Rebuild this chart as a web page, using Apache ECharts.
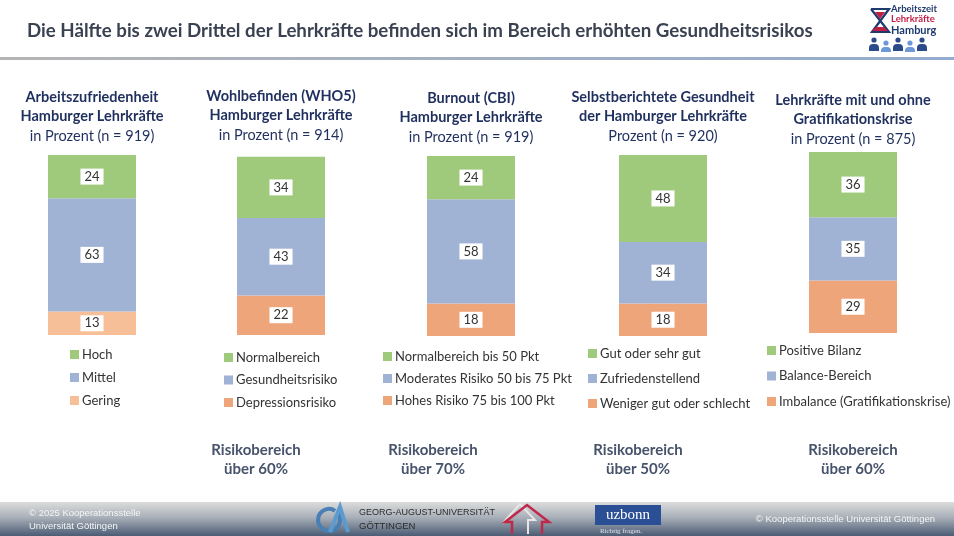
<!DOCTYPE html>
<html><head><meta charset="utf-8">
<script src="https://cdn.jsdelivr.net/npm/echarts@6/dist/echarts.min.js"></script>
<style>html,body{margin:0;padding:0;background:#fff}#c{width:954px;height:536px}</style>
</head><body><div id="c"></div>
<script>
// ---- data ----
const chartTitles = [
  ["Arbeitszufriedenheit", "Hamburger Lehrkräfte", "in Prozent (n = 919)"],
  ["Wohlbefinden (WHO5)", "Hamburger Lehrkräfte", "in Prozent (n = 914)"],
  ["Burnout (CBI)", "Hamburger Lehrkräfte", "in Prozent (n = 919)"],
  ["Selbstberichtete Gesundheit", "der Hamburger Lehrkräfte", "Prozent (n = 920)"],
  ["Lehrkräfte mit und ohne", "Gratifikationskrise", "in Prozent (n = 875)"]
];
// category names per chart: [top (green), middle (blue), bottom (orange)]
const legendNames = [
  ["Hoch", "Mittel", "Gering"],
  ["Normalbereich", "Gesundheitsrisiko", "Depressionsrisiko"],
  ["Normalbereich bis 50 Pkt", "Moderates Risiko 50 bis 75 Pkt", "Hohes Risiko 75 bis 100 Pkt"],
  ["Gut oder sehr gut", "Zufriedenstellend", "Weniger gut oder schlecht"],
  ["Positive Bilanz", "Balance-Bereich", "Imbalance (Gratifikationskrise)"]
];
const greenValues  = [24, 34, 24, 48, 36];
const blueValues   = [63, 43, 58, 34, 35];
const orangeValues = [13, 22, 18, 18, 29];
const riskNotes = [null, ["Risikobereich", "über 60%"], ["Risikobereich", "über 70%"], ["Risikobereich", "über 50%"], ["Risikobereich", "über 60%"]];
const mainTitle = "Die Hälfte bis zwei Drittel der Lehrkräfte befinden sich im Bereich erhöhten Gesundheitsrisikos";

// ---- layout (styles only) ----
const FONT = "Lato";
const centers = [92, 281, 471, 663, 853];
const gridTops = [155, 155, 156, 155, 152];
const gridBottoms = [201, 201, 200, 200, 203];
const titleTops = [97, 96, 98, 97, 100];
const legendPos = [[70, 348], [224, 351], [383, 350], [588, 347], [767, 344]];
const legendGaps = [10, 9.5, 9, 12, 12.5];
const noteCenters = [0, 256, 433, 638, 853];
const GREEN = "#9fca7b", BLUE = "#a1b3d5", ORANGE = "#efa57a", ORANGE1 = "#f6bf97";
const NAVY = "#1f2f5e";

const chart = echarts.init(document.getElementById('c'), null, {renderer: 'canvas'});

const grids = [], xAxes = [], yAxes = [], series = [], legends = [], graphics = [];
centers.forEach((cx, i) => {
  grids.push({left: cx - 44, width: 88, top: gridTops[i], bottom: gridBottoms[i]});
  xAxes.push({type: 'category', gridIndex: i, data: ['a'], show: false});
  yAxes.push({type: 'value', gridIndex: i, min: 0, max: 100, show: false});
  const lbl = {show: true, position: 'inside', formatter: '{c}', backgroundColor: '#fff',
    padding: [2, 4, 1, 4], color: '#333', fontFamily: FONT, fontSize: 13};
  const vals = [orangeValues[i], blueValues[i], greenValues[i]];
  const cols = [i === 0 ? ORANGE1 : ORANGE, BLUE, GREEN];
  const names = [legendNames[i][2], legendNames[i][1], legendNames[i][0]];
  for (let k = 0; k < 3; k++) {
    series.push({type: 'bar', name: names[k], stack: 's' + i, xAxisIndex: i, yAxisIndex: i,
      barWidth: '100%', data: [vals[k]], itemStyle: {color: cols[k]}, label: lbl,
      emphasis: {disabled: true}, silent: true});
  }
  legends.push({data: legendNames[i].map(n => ({name: n, icon: 'rect'})), orient: 'vertical',
    left: legendPos[i][0], top: legendPos[i][1], itemGap: legendGaps[i], itemWidth: 9, itemHeight: 9,
    padding: 0, selectedMode: false,
    textStyle: {fontFamily: FONT, fontSize: 13, color: '#333', padding: [0, 0, 0, -2]}});
  // titles
  chartTitles[i].forEach((t, j) => {
    graphics.push({type: 'text', x: cx, y: titleTops[i] + j * 19.5, style: {text: t, fontFamily: FONT,
      fontSize: 14.5, fontWeight: j < 2 ? 'bold' : 'normal', fill: NAVY, align: 'center', verticalAlign: 'middle'}});
  });
  if (riskNotes[i]) {
    riskNotes[i].forEach((t, j) => {
      graphics.push({type: 'text', x: noteCenters[i], y: 450 + j * 19, style: {text: t, fontFamily: FONT,
        fontSize: 15, fontWeight: 'bold', fill: '#46536a', align: 'center', verticalAlign: 'middle'}});
    });
  }
});

// main title
graphics.push({type: 'text', x: 27, y: 31, style: {text: mainTitle, fontFamily: FONT, fontSize: 18.7,
  fontWeight: 'bold', fill: '#3a4252', verticalAlign: 'middle'}});
// top separator
graphics.push({type: 'rect', shape: {x: 0, y: 57, width: 954, height: 3}, style: {fill: new echarts.graphic.LinearGradient(0, 0, 1, 0, [{offset: 0, color: '#b4b4b4'}, {offset: 1, color: '#93acd0'}])}});
// top-right logo
graphics.push({type: 'polyline', shape: {points: [[871, 9], [889, 9], [872, 32], [889, 32], [871, 9]]}, style: {stroke: '#1f3a6e', lineWidth: 2.2, fill: null}});
graphics.push({type: 'polygon', shape: {points: [[876, 27], [884, 27], [888, 31], [872, 31]]}, style: {fill: '#c21f45'}});
graphics.push({type: 'polygon', shape: {points: [[875, 12], [885, 12], [880, 19]]}, style: {fill: '#c21f45'}});
graphics.push({type: 'text', x: 891, y: 9, style: {text: 'Arbeitszeit', fontFamily: FONT, fontSize: 9.5, fontWeight: 'bold', fill: '#1f3a6e', verticalAlign: 'middle'}});
graphics.push({type: 'text', x: 891, y: 19, style: {text: 'Lehrkräfte', fontFamily: FONT, fontSize: 9.5, fontWeight: 'bold', fill: '#c21f45', verticalAlign: 'middle'}});
graphics.push({type: 'text', x: 891, y: 30, style: {text: 'Hamburg', fontFamily: FONT, fontSize: 11, fontWeight: 'bold', fill: '#1f3a6e', verticalAlign: 'middle'}});
[[874, '#2a4a8a'], [886, '#6f98d8'], [898, '#2a4a8a'], [910, '#6f98d8'], [922, '#2a4a8a']].forEach((p, k) => {
  graphics.push({type: 'circle', shape: {cx: p[0], cy: k % 2 ? 43 : 40, r: 2.6}, style: {fill: p[1]}});
  graphics.push({type: 'rect', shape: {x: p[0] - 5, y: k % 2 ? 47 : 44, width: 10, height: k % 2 ? 5 : 7, r: [4, 4, 0, 0]}, style: {fill: p[1]}});
});
// footer
graphics.push({type: 'rect', shape: {x: 0, y: 502, width: 954, height: 34}, style: {fill: new echarts.graphic.LinearGradient(0, 0, 0, 1, [{offset: 0, color: '#dcdcdc'}, {offset: 0.45, color: '#a9b0b9'}, {offset: 1, color: '#4b5c74'}])}});
graphics.push({type: 'text', x: 29, y: 513, style: {text: '© 2025 Kooperationsstelle', fontFamily: 'Liberation Sans', fontSize: 9.5, fill: '#f4f4f4', verticalAlign: 'middle'}});
graphics.push({type: 'text', x: 29, y: 526, style: {text: 'Universität Göttingen', fontFamily: 'Liberation Sans', fontSize: 9.5, fill: '#f4f4f4', verticalAlign: 'middle'}});
graphics.push({type: 'text', x: 935, y: 519, style: {text: '© Kooperationsstelle Universität Göttingen', fontFamily: 'Liberation Sans', fontSize: 9.5, fill: '#f4f4f4', align: 'right', verticalAlign: 'middle'}});
// Göttingen logo
graphics.push({type: 'arc', shape: {cx: 329, cy: 520, r: 11, startAngle: -0.6, endAngle: 5.3}, style: {stroke: '#4a7fb5', lineWidth: 4, fill: null}});
graphics.push({type: 'polyline', shape: {points: [[330, 532], [340, 507], [348, 532]]}, style: {stroke: '#5b9bd0', lineWidth: 4, fill: null}});
graphics.push({type: 'text', x: 359, y: 513, style: {text: 'GEORG-AUGUST-UNIVERSITÄT', fontFamily: 'Liberation Sans', fontSize: 9, fill: '#2b2b2b', verticalAlign: 'middle'}});
graphics.push({type: 'text', x: 359, y: 526, style: {text: 'GÖTTINGEN', fontFamily: 'Liberation Sans', fontSize: 9.5, fill: '#2b2b2b', verticalAlign: 'middle'}});
// house logo
graphics.push({type: 'polyline', shape: {points: [[503, 523], [520, 504], [535, 520], [528, 520], [528, 534]]}, style: {stroke: '#e6e6e6', lineWidth: 2, fill: null}});
graphics.push({type: 'polyline', shape: {points: [[512, 534], [512, 522], [505, 522], [527, 505], [549, 522], [542, 522], [542, 534]]}, style: {stroke: '#c0284a', lineWidth: 2.5, fill: null}});
// uzbonn
graphics.push({type: 'rect', shape: {x: 595, y: 505, width: 66, height: 20}, style: {fill: '#2a4f95'}});
graphics.push({type: 'text', x: 628, y: 515, style: {text: 'uzbonn', fontFamily: 'Liberation Serif', fontSize: 15, fill: '#fff', align: 'center', verticalAlign: 'middle'}});
graphics.push({type: 'text', x: 600, y: 531, style: {text: 'Richtig fragen.', fontFamily: 'Liberation Serif', fontSize: 7, fill: '#dde3ee', verticalAlign: 'middle'}});

chart.setOption({
  animation: false,
  grid: grids, xAxis: xAxes, yAxis: yAxes, series: series, legend: legends,
  graphic: {elements: graphics}
});
</script></body></html>
